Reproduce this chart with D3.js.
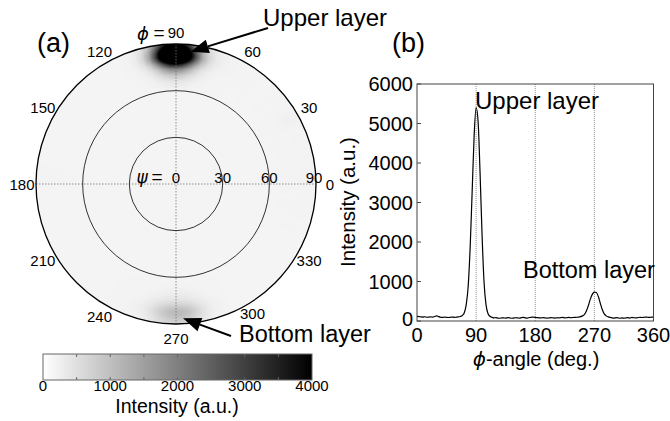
<!DOCTYPE html>
<html>
<head>
<meta charset="utf-8">
<script src="https://cdn.jsdelivr.net/npm/d3@7"></script>
<style>
  body { margin: 0; background: #fff; }
  svg { display: block; font-family: "Liberation Sans", Arial, sans-serif; }
</style>
</head>
<body>
<div id="chart"></div>
<script>
const width = 670
const height = 421

// phi profile, panel (b)
const phiAngles = [0,3,6,9,12,15,18,21,24,27,30,33,36,39,42,45,48,51,54,57,60,63,66,69,72,75,78,81,84,87,90,93,96,99,102,105,108,111,114,117,120,123,126,129,132,135,138,141,144,147,150,153,156,159,162,165,168,171,174,177,180,183,186,189,192,195,198,201,204,207,210,213,216,219,222,225,228,231,234,237,240,243,246,249,252,255,258,261,264,267,270,273,276,279,282,285,288,291,294,297,300,303,306,309,312,315,318,321,324,327,330,333,336,339,342,345,348,351,354,357,360]
const intensity = [115,110,105,100,108,95,100,105,98,115,130,110,95,90,100,92,88,95,100,92,98,105,115,140,210,420,900,1900,3300,4700,5400,5050,3750,2200,1000,420,190,120,95,80,85,75,70,80,78,72,85,80,70,75,82,78,72,85,90,80,75,88,95,100,90,85,80,78,85,80,72,78,85,80,75,82,78,85,90,80,85,90,82,88,92,95,100,110,130,170,260,400,560,680,730,720,620,450,290,180,130,105,90,80,75,85,80,70,78,72,80,85,75,90,82,78,85,95,88,92,100,95,90,100,98]

// psi dependence of the pole figure (relative weight)
const psiLevels = [0, 60, 66, 70, 74, 77, 80, 82, 84, 86, 88, 90]
const psiWeights = [0, 0, 0.03, 0.1, 0.25, 0.5, 0.85, 1, 0.97, 0.85, 0.7, 0.55]
const mapGain = 1.4
const mapBackground = 180

const phiTicks = [0, 30, 60, 90, 120, 150, 180, 210, 240, 270, 300, 330]
const psiTicks = [30, 60, 90]
const yTicks = [0, 1000, 2000, 3000, 4000, 5000, 6000]
const xTicks = [0, 90, 180, 270, 360]
const barTicks = [0, 1000, 2000, 3000, 4000]
const barMinorTicks = [500, 1000, 1500, 2000, 2500, 3000, 3500]

const svg = d3.select("#chart").append("svg").attr("width", width).attr("height", height)

const gray = d3.scaleLinear().domain([0, 4000]).range(["#ffffff", "#000000"]).clamp(true)
const profile = d3.scaleLinear().domain(phiAngles).range(intensity)
const psiW = d3.scaleLinear().domain(psiLevels).range(psiWeights).clamp(true)

// ---------- (a) pole figure ----------
const cx = 176, cy = 184, R = 140
const rScale = d3.scaleLinear().domain([0, 90]).range([0, R])
const rad = d => d * Math.PI / 180
const polar = (phi, psi) => [cx + rScale(psi) * Math.cos(rad(phi)), cy - rScale(psi) * Math.sin(rad(phi))]

// raster of the pole figure, drawn to a canvas and placed as an image
const k = 2
const cv = document.createElement("canvas")
cv.width = cv.height = 2 * R * k
const ctx = cv.getContext("2d")
const img = ctx.createImageData(cv.width, cv.height)
for (let j = 0; j < cv.height; j++) {
  for (let i = 0; i < cv.width; i++) {
    const dx = (i + 0.5) / k - R, dy = R - (j + 0.5) / k
    const psi = rScale.invert(Math.hypot(dx, dy))
    const o = 4 * (j * cv.width + i)
    if (psi > 90) { img.data[o + 3] = 0; continue }
    let phi = Math.atan2(dy, dx) * 180 / Math.PI
    if (phi < 0) phi += 360
    const v = mapBackground + mapGain * Math.max(0, profile(phi) - 90) * psiW(psi)
    const c = d3.rgb(gray(v))
    img.data[o] = c.r; img.data[o + 1] = c.g; img.data[o + 2] = c.b; img.data[o + 3] = 255
  }
}
ctx.putImageData(img, 0, 0)

const pa = svg.append("g")
pa.append("image").attr("x", cx - R).attr("y", cy - R).attr("width", 2 * R).attr("height", 2 * R)
  .attr("href", cv.toDataURL())

// cross hairs
pa.append("line").attr("x1", cx - R).attr("x2", cx + R).attr("y1", cy).attr("y2", cy)
  .attr("stroke", "#777").attr("stroke-width", 0.8).attr("stroke-dasharray", "1.5,1.5")
pa.append("line").attr("x1", cx).attr("x2", cx).attr("y1", cy - R).attr("y2", cy + R)
  .attr("stroke", "#777").attr("stroke-width", 0.8).attr("stroke-dasharray", "1.5,1.5")

pa.selectAll("circle.psi").data(psiTicks).join("circle")
  .attr("class", "psi")
  .attr("cx", cx).attr("cy", cy).attr("r", d => rScale(d))
  .attr("fill", "none")
  .attr("stroke", d => d === 90 ? "#000" : "#333")
  .attr("stroke-width", d => d === 90 ? 1.3 : 1)

// phi labels
pa.selectAll("text.phi").data(phiTicks).join("text")
  .attr("class", "phi")
  .attr("x", d => cx + (152 + 2 * Math.abs(Math.cos(rad(d)))) * Math.cos(rad(d)))
  .attr("y", d => cy - (152 + 2 * Math.abs(Math.cos(rad(d)))) * Math.sin(rad(d)) + (d === 270 ? 2 : d === 300 ? -3 : 0))
  .attr("text-anchor", "middle").attr("dominant-baseline", "central")
  .attr("font-size", 15)
  .text(d => d)
pa.append("text").attr("x", 143).attr("y", cy - 151).attr("dominant-baseline", "central")
  .attr("text-anchor", "middle").attr("font-size", 18)
  .attr("font-family", "DejaVu Sans").attr("font-style", "italic").text("ϕ")
pa.append("text").attr("x", 159).attr("y", cy - 152).attr("dominant-baseline", "central")
  .attr("text-anchor", "middle").attr("font-size", 19).text("=")

// psi labels
pa.selectAll("text.psiL").data([0].concat(psiTicks)).join("text")
  .attr("class", "psiL")
  .attr("x", d => cx + rScale(d) + (d === 90 ? -2 : 0))
  .attr("y", cy - 1)
  .attr("text-anchor", "middle").attr("font-size", 15)
  .text(d => d)
pa.append("text").attr("x", 142).attr("y", cy - 1)
  .attr("text-anchor", "middle").attr("font-size", 17)
  .attr("font-family", "DejaVu Sans").attr("font-style", "italic").text("ψ")
pa.append("text").attr("x", 157).attr("y", cy - 1.5)
  .attr("text-anchor", "middle").attr("font-size", 19).text("=")

// arrows
function arrow(g, tail, tip) {
  const ang = Math.atan2(tip[1] - tail[1], tip[0] - tail[0])
  const L = 18, W = 7
  const bx = tip[0] - L * Math.cos(ang), by = tip[1] - L * Math.sin(ang)
  g.append("line").attr("x1", tail[0]).attr("y1", tail[1]).attr("x2", bx).attr("y2", by)
    .attr("stroke", "#000").attr("stroke-width", 2)
  g.append("path")
    .attr("d", `M${tip[0]},${tip[1]}L${bx - W * Math.sin(ang)},${by + W * Math.cos(ang)}L${bx + W * Math.sin(ang)},${by - W * Math.cos(ang)}Z`)
    .attr("fill", "#000")
}
arrow(svg, [268, 28], polar(83.7, 85.6))
arrow(svg, [231, 336], polar(273, 86.5))

svg.append("text").attr("x", 263).attr("y", 26).attr("font-size", 24).text("Upper layer")
svg.append("text").attr("x", 239).attr("y", 342).attr("font-size", 23.5).text("Bottom layer")
svg.append("text").attr("x", 37).attr("y", 52).attr("font-size", 27).text("(a)")

// colour bar
const bx0 = 43, bx1 = 312, by0 = 354, by1 = 380
const barX = d3.scaleLinear().domain([0, 4000]).range([bx0, bx1])
const grad = svg.append("defs").append("linearGradient").attr("id", "cbar")
grad.append("stop").attr("offset", "0%").attr("stop-color", gray(0))
grad.append("stop").attr("offset", "100%").attr("stop-color", gray(4000))
svg.append("rect").attr("x", bx0).attr("y", by0).attr("width", bx1 - bx0).attr("height", by1 - by0)
  .attr("fill", "url(#cbar)").attr("stroke", "#666").attr("stroke-width", 1)
svg.append("g").selectAll("line").data(barMinorTicks).join("line")
  .attr("x1", d => barX(d)).attr("x2", d => barX(d)).attr("y1", by0).attr("y2", by0 + 3)
  .attr("stroke", "#666")
svg.append("g").selectAll("line").data(barMinorTicks).join("line")
  .attr("x1", d => barX(d)).attr("x2", d => barX(d)).attr("y1", by1).attr("y2", by1 - 3)
  .attr("stroke", "#666")
svg.append("g").selectAll("text").data(barTicks).join("text")
  .attr("x", d => barX(d)).attr("y", 391)
  .attr("text-anchor", "middle").attr("font-size", 15)
  .text(d => d)
svg.append("text").attr("x", 177).attr("y", 413).attr("text-anchor", "middle")
  .attr("font-size", 19.5).text("Intensity (a.u.)")

// ---------- (b) phi profile ----------
const x = d3.scaleLinear().domain([0, 360]).range([417, 653.5])
const y = d3.scaleLinear().domain([0, 6000]).range([321, 84])
const pb = svg.append("g")

pb.selectAll("line.grid").data([90, 180, 270]).join("line")
  .attr("class", "grid")
  .attr("x1", d => x(d)).attr("x2", d => x(d)).attr("y1", y(6000)).attr("y2", y(0))
  .attr("stroke", "#777").attr("stroke-width", 0.8).attr("stroke-dasharray", "1,1")

pb.selectAll("line.yt").data(yTicks).join("line")
  .attr("class", "yt")
  .attr("x1", x(0)).attr("x2", x(0) + 4).attr("y1", d => y(d)).attr("y2", d => y(d))
  .attr("stroke", "#444")

const line = d3.line().x((d, i) => x(phiAngles[i])).y(d => y(d)).curve(d3.curveMonotoneX)
pb.append("path").datum(intensity).attr("d", line)
  .attr("fill", "none").attr("stroke", "#000").attr("stroke-width", 1.2)

pb.append("rect").attr("x", x(0)).attr("y", y(6000)).attr("width", x(360) - x(0)).attr("height", y(0) - y(6000))
  .attr("fill", "none").attr("stroke", "#444").attr("stroke-width", 1)

pb.selectAll("text.yl").data(yTicks).join("text")
  .attr("class", "yl")
  .attr("x", x(0) - 4).attr("y", d => y(d) - (d === 0 ? 2 : 0))
  .attr("text-anchor", "end").attr("dominant-baseline", "central").attr("font-size", 20)
  .text(d => d)
pb.selectAll("text.xl").data(xTicks).join("text")
  .attr("class", "xl")
  .attr("x", d => x(d)).attr("y", 342)
  .attr("text-anchor", "middle").attr("font-size", 20)
  .text(d => d)

pb.append("text").attr("transform", "translate(355,202) rotate(-90)")
  .attr("text-anchor", "middle").attr("font-size", 20.5).text("Intensity (a.u.)")
pb.append("text").attr("x", 536).attr("y", 366).attr("text-anchor", "middle").attr("font-size", 20)
  .html('<tspan font-family="DejaVu Sans" font-style="italic">ϕ</tspan>-angle (deg.)')

pb.append("text").attr("x", 475).attr("y", 109).attr("font-size", 24).text("Upper layer")
pb.append("text").attr("x", 523).attr("y", 278).attr("font-size", 23.5).text("Bottom layer")
svg.append("text").attr("x", 392).attr("y", 52).attr("font-size", 27).text("(b)")
</script>
</body>
</html>
